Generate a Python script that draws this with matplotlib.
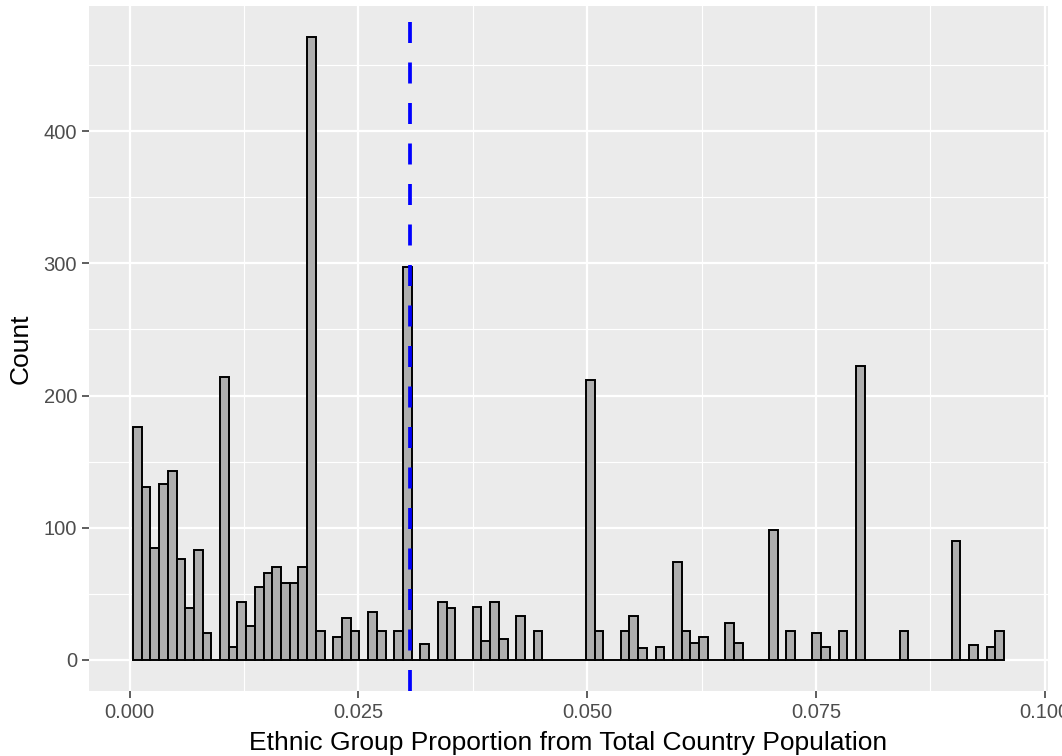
import matplotlib
matplotlib.use("Agg")
import matplotlib.pyplot as plt
import numpy as np

# ---- data ----
bin_start = 0.00036
bin_width = 0.000952
counts = [176, 131, 85, 133, 143, 76, 39, 83, 20, 0,
          214, 10, 44, 26, 55, 66, 70, 58, 58, 70,
          471, 22, 0, 17, 32, 22, 0, 36, 22, 0,
          22, 297, 0, 12, 0, 44, 39, 0, 0, 40,
          14, 44, 16, 0, 33, 0, 22, 0, 0, 0,
          0, 0, 212, 22, 0, 0, 22, 33, 9, 0,
          10, 0, 74, 22, 13, 17, 0, 0, 28, 13,
          0, 0, 0, 98, 0, 22, 0, 0, 20, 10,
          0, 22, 0, 222, 0, 0, 0, 0, 22, 0,
          0, 0, 0, 0, 90, 0, 11, 0, 10, 22]
mean_value = 0.0306
x_ticks = [0.000, 0.025, 0.050, 0.075, 0.100]
x_tick_labels = ["0.000", "0.025", "0.050", "0.075", "0.100"]
y_ticks = [0, 100, 200, 300, 400]
x_label = "Ethnic Group Proportion from Total Country Population"
y_label = "Count"

# ---- figure ----
plt.rcParams['font.family'] = ['Liberation Sans', 'DejaVu Sans']
fig = plt.figure(figsize=(10.62, 7.56), dpi=100)
ax = fig.add_axes([89.4 / 1062, 1 - 691 / 756, (1047.6 - 89.4) / 1062, (691 - 6.2) / 756])
ax.set_facecolor('#EBEBEB')

edges = bin_start + bin_width * np.arange(len(counts) + 1)
ax.bar(edges[:-1], counts, width=bin_width, align='edge',
       color='#AEAEAE', edgecolor='black', linewidth=1.4, zorder=3)

ax.axvline(mean_value, color='#0000FF', linewidth=2.7, dashes=(5.6, 5.2), zorder=4)

x_min, x_max = edges[0], edges[-1]
pad = (x_max - x_min) * 0.05
ax.set_xlim(x_min - pad, x_max + pad)
ymax = max(counts)
ax.set_ylim(-ymax * 0.05, ymax * 1.05)

ax.set_xticks(x_ticks)
ax.set_xticklabels(x_tick_labels)
ax.set_yticks(y_ticks)
ax.set_xticks([0.0125, 0.0375, 0.0625, 0.0875], minor=True)
ax.set_yticks([50, 150, 250, 350, 450], minor=True)

ax.grid(which='major', color='white', linewidth=1.6, zorder=0)
ax.grid(which='minor', color='white', linewidth=0.85, zorder=0)
ax.set_axisbelow(True)

for s in ax.spines.values():
    s.set_visible(False)

ax.tick_params(which='major', length=5, width=1.1, color='#333333',
               labelsize=14.5, labelcolor='#4D4D4D', pad=4)
ax.tick_params(which='minor', length=0)

ax.set_xlabel(x_label, fontsize=19, color='black', labelpad=6)
ax.set_ylabel(y_label, fontsize=19, color='black', labelpad=8)

fig.savefig("out.png", dpi=100)
